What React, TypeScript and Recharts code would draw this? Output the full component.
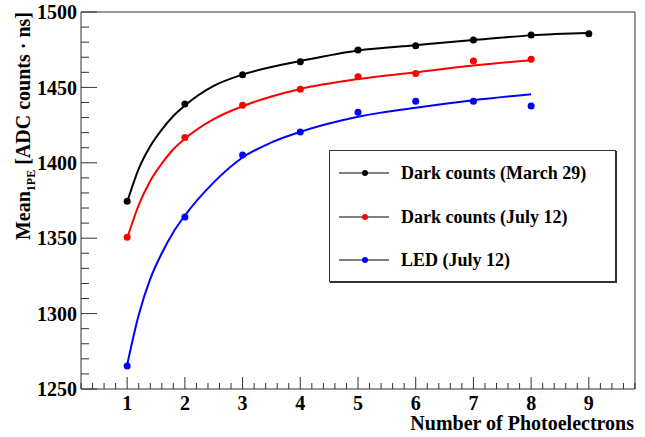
import {
  ComposedChart,
  Line,
  ReferenceArea,
  Scatter,
  XAxis,
  YAxis,
} from 'recharts'

const photoelectrons = [1, 2, 3, 4, 5, 6, 7, 8, 9]
const darkMarch = [1374.5, 1439, 1458.4, 1467, 1474.8, 1477.7, 1481.4, 1484.7, 1485.6]
const darkJuly = [1350.6, 1416.7, 1438.1, 1448.7, 1457.1, 1459.3, 1467.5, 1468.6]
const ledJuly = [1265.3, 1364, 1405.2, 1420.4, 1433.5, 1440.8, 1440.8, 1437.7]

// fitted curves, sampled off the plot
const fitX = [1, 1.2, 1.4, 1.6, 1.8, 2, 2.5, 3, 3.5, 4, 5, 6, 7, 8, 9]
const darkMarchFit = [1374, 1396, 1411, 1422, 1431, 1438, 1451, 1458.5, 1463.5, 1467.5, 1474.5, 1478, 1481.4, 1484.5, 1486]
const darkJulyFit = [1350, 1372, 1388, 1399.5, 1409, 1416, 1429, 1437.5, 1444, 1449, 1455.5, 1460, 1464.5, 1468]
const ledFit = [1266, 1299, 1323, 1340, 1354, 1365, 1387, 1403.5, 1413.5, 1420.5, 1430.5, 1436.5, 1441.5, 1445.5]

const seriesNames = ['Dark counts (March 29)', 'Dark counts (July 12)', 'LED (July 12)']
const seriesColors = ['#000000', '#ff0000', '#0000ff']

const xMajorTicks = [1, 2, 3, 4, 5, 6, 7, 8, 9]
const yMajorTicks = [1250, 1300, 1350, 1400, 1450, 1500]

const X_DOMAIN: [number, number] = [0.2, 9.8]
const Y_DOMAIN: [number, number] = [1250, 1500]

// minor ticks every 0.2 on x, every 10 on y
const xTicks: number[] = []
for (let i = 1; i <= 49; i++) xTicks.push(Math.round(i * 2) / 10)
const yTicks: number[] = []
for (let v = 1250; v <= 1500; v += 10) yTicks.push(v)

const FONT = '"Liberation Serif", "Times New Roman", serif'
const AXIS = '#333333'

const toPoints = (xs: number[], ys: number[]) => ys.map((y, i) => ({ x: xs[i], y }))

const points = [
  toPoints(photoelectrons, darkMarch),
  toPoints(photoelectrons, darkJuly),
  toPoints(photoelectrons, ledJuly),
]
const fits = [
  toPoints(fitX, darkMarchFit),
  toPoints(fitX, darkJulyFit),
  toPoints(fitX, ledFit),
]

function XTick({ x, y, payload }: any) {
  const v = payload.value as number
  const major = xMajorTicks.some((t) => Math.abs(t - v) < 1e-6)
  return (
    <g>
      <line x1={x} x2={x} y1={y} y2={y - (major ? 12 : 6)} stroke={AXIS} />
      {major && (
        <text x={x} y={y + 21} textAnchor="middle" fontFamily={FONT} fontWeight="bold" fontSize={20} fill="#000">
          {v}
        </text>
      )}
    </g>
  )
}

function YTick({ x, y, payload }: any) {
  const v = payload.value as number
  const major = yMajorTicks.includes(v)
  return (
    <g>
      <line x1={x} x2={x + (major ? 16 : 8)} y1={y} y2={y} stroke={AXIS} />
      {major && (
        <text x={x - 4} y={y} dy="0.36em" textAnchor="end" fontFamily={FONT} fontWeight="bold" fontSize={20} fill="#000">
          {v}
        </text>
      )}
    </g>
  )
}

function Dot({ cx, cy, fill }: any) {
  return <circle cx={cx} cy={cy} r={3.5} fill={fill} />
}

function LegendBox() {
  return (
    <div
      style={{
        position: 'absolute',
        left: 329,
        top: 150,
        width: 285,
        height: 130,
        border: '1px solid #333',
        boxShadow: '1px 1px 0 #333',
        background: '#fff',
        fontFamily: FONT,
        fontWeight: 'bold',
        fontSize: 18,
      }}
    >
      {seriesNames.map((name, i) => (
        <div key={name} style={{ position: 'absolute', left: 0, top: 22 + i * 43.5 - 12, height: 24, width: '100%' }}>
          <svg width={60} height={24} style={{ position: 'absolute', left: 9, top: 0 }}>
            <line x1={0} x2={50} y1={12} y2={12} stroke="#000" strokeWidth={1} />
            <circle cx={26} cy={12} r={3} fill={seriesColors[i]} />
          </svg>
          <span style={{ position: 'absolute', left: 71, top: 0, lineHeight: '24px', whiteSpace: 'nowrap' }}>{name}</span>
        </div>
      ))}
    </div>
  )
}

export default function App() {
  return (
    <div style={{ position: 'absolute', left: 0, top: 0, width: 645, height: 437, background: '#fff' }}>
      <ComposedChart width={645} height={437} margin={{ top: 12, right: 10, left: 0, bottom: 18 }}>
        <XAxis
          dataKey="x"
          type="number"
          domain={X_DOMAIN}
          allowDataOverflow
          ticks={xTicks}
          interval={0}
          tick={<XTick />}
          tickSize={0}
          tickMargin={0}
          tickLine={false}
          axisLine={false}
          height={30}
        />
        <YAxis
          dataKey="y"
          type="number"
          domain={Y_DOMAIN}
          allowDataOverflow
          ticks={yTicks}
          interval={0}
          tick={<YTick />}
          tickSize={0}
          tickMargin={0}
          tickLine={false}
          axisLine={false}
          width={81}
        />
        <ReferenceArea x1={X_DOMAIN[0]} x2={X_DOMAIN[1]} y1={Y_DOMAIN[0]} y2={Y_DOMAIN[1]} fill="none" stroke={AXIS} strokeWidth={1} />
        {fits.map((d, i) => (
          <Line
            key={`fit-${i}`}
            data={d}
            dataKey="y"
            type="monotone"
            stroke={seriesColors[i]}
            strokeWidth={2}
            dot={false}
            activeDot={false}
            isAnimationActive={false}
          />
        ))}
        {points.map((d, i) => (
          <Scatter
            key={`pts-${i}`}
            data={d}
            dataKey="y"
            fill={seriesColors[i]}
            shape={<Dot />}
            isAnimationActive={false}
          />
        ))}
      </ComposedChart>
      <svg width={645} height={437} style={{ position: 'absolute', left: 0, top: 0, pointerEvents: 'none' }}>
        <text
          transform="translate(30,12) rotate(-90)"
          textAnchor="end"
          fontFamily={FONT}
          fontWeight="bold"
          fontSize={20}
          fill="#000"
        >
          Mean
          <tspan fontSize={12} dy={5}>1PE</tspan>
          <tspan dy={-5}> [ADC counts · ns]</tspan>
        </text>
        <text x={634} y={430} textAnchor="end" fontFamily={FONT} fontWeight="bold" fontSize={20} fill="#000">
          Number of Photoelectrons
        </text>
      </svg>
      <LegendBox />
    </div>
  )
}
